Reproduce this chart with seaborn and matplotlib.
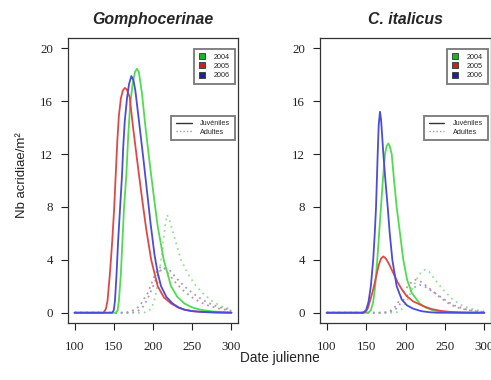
import matplotlib
matplotlib.use("Agg")
import matplotlib.pyplot as plt
from matplotlib.lines import Line2D
import seaborn as sns

# --- DATA (day, density) ---
YEARS = ['2004', '2005', '2006']
STAGES = ['Juvéniles', 'Adultes']
PANELS = ['Gomphocerinae', 'C. italicus']
X_TICKS = [100, 150, 200, 250, 300]
Y_TICKS = [0, 4, 8, 12, 16, 20]

# Gomphocerinae
gom_juv_2004 = [(100, 0), (153, 0), (155, 0.2), (156.5, 0.9), (159, 2.9), (161, 5.4), (163, 7.9),
                (166, 10.4), (168.5, 13.5), (171, 15.8), (174, 17.3), (177, 18.2), (179.5, 18.45),
                (182, 18.2), (185.9, 16.6), (190.1, 14.2), (195.6, 11.4), (200.6, 9.0),
                (206.1, 6.5), (213.7, 4.0), (223, 2.0), (231, 1.2), (240, 0.7), (250, 0.4),
                (261, 0.22), (275, 0.1), (290, 0.04), (300, 0.02)]
gom_juv_2005 = [(100, 0), (137, 0), (140, 0.3), (142, 0.9), (145, 2.9), (148, 5.4), (150.5, 7.9),
                (152.6, 10.6), (154.5, 13.0), (156.5, 14.9), (159, 16.2), (161.5, 16.8), (164, 17.0),
                (166.5, 16.9), (170.3, 16.3), (174.5, 14.05), (180.9, 11.0), (185.9, 8.7),
                (191.4, 6.3), (197.7, 4.0), (206, 2.0), (214, 1.15), (223, 0.7), (232, 0.4),
                (240, 0.22), (250, 0.12), (265, 0.05), (280, 0.02), (300, 0)]
gom_juv_2006 = [(100, 0), (148, 0), (150, 0.2), (151.5, 0.9), (153.5, 2.9), (155.5, 5.4), (158, 7.9),
                (160.5, 10.4), (162, 12.5), (164, 14.5), (167, 16.3), (169.5, 17.3), (172.4, 17.9),
                (175, 17.6), (177.5, 16.8), (183, 14.05), (188.4, 11.3), (192.7, 9.0), (196.8, 6.8),
                (201.9, 4.4), (206, 3.0), (210.3, 2.0), (217, 1.2), (225, 0.7), (232, 0.42),
                (240, 0.24), (250, 0.12), (265, 0.05), (280, 0.02), (300, 0)]
gom_ad_2004 = [(100, 0), (188, 0), (193, 0.1), (197.7, 0.3), (201, 0.8), (204, 1.5), (207, 2.6),
               (210.3, 4.0), (213, 5.3), (215.5, 6.6), (218, 7.4), (221, 7.0), (225, 6.2),
               (229.3, 5.3), (235.6, 4.0), (240, 3.5), (246, 2.8), (254, 2.1), (263, 1.5),
               (275, 0.9), (286, 0.5), (300, 0.25)]
gom_ad_2005 = [(100, 0), (165, 0), (172, 0.1), (178, 0.3), (183, 0.5), (188, 1.0), (193.4, 1.5),
               (198, 2.2), (203, 2.9), (207, 3.3), (210.3, 3.5), (214, 3.4), (220, 2.9), (230, 2.2),
               (240, 1.6), (250, 1.15), (260, 0.8), (270, 0.55), (285, 0.3), (300, 0.15)]
gom_ad_2006 = [(100, 0), (172, 0), (180, 0.1), (188, 0.5), (195, 1.3), (200, 2.0), (205, 2.7),
               (210, 3.2), (214, 3.4), (220, 3.3), (230, 2.6), (240, 2.0), (250, 1.5), (260, 1.1),
               (270, 0.75), (285, 0.4), (300, 0.2)]

# C. italicus
ita_juv_2004 = [(100, 0), (153, 0), (156, 0.2), (159, 0.8), (161.5, 2.0), (164.2, 4.0), (166.5, 6.0),
                (168.9, 8.0), (171.5, 10.2), (174, 12.0), (176, 12.6), (178.2, 12.8), (180, 12.6),
                (182.5, 12.0), (185.5, 10.0), (188.8, 8.0), (193, 6.0), (197.2, 4.0), (202, 2.5),
                (208, 1.5), (218, 0.7), (226, 0.38), (235, 0.18), (245, 0.08), (258, 0.02), (300, 0)]
ita_juv_2005 = [(100, 0), (146, 0), (149, 0.05), (152, 0.3), (155, 0.9), (159, 1.75), (163, 2.8),
                (166, 3.6), (169, 4.1), (171.8, 4.26), (175, 4.1), (179, 3.7), (184.5, 3.0),
                (190, 2.3), (195, 1.8), (201.5, 1.25), (210, 0.85), (222.6, 0.5), (233, 0.28),
                (243.8, 0.15), (255, 0.07), (270, 0.02), (285, 0), (300, 0)]
ita_juv_2006 = [(100, 0), (146, 0), (150, 0.2), (153, 0.8), (156, 2.0), (159, 4.0), (161, 6.0),
                (162.6, 8.0), (164.7, 12.0), (166, 14.2), (167.6, 15.2), (169, 14.6), (171.9, 12.0),
                (174.5, 10.0), (177.4, 8.0), (180, 6.0), (183.3, 4.0), (188.8, 2.0), (195.2, 1.0),
                (202, 0.55), (210, 0.3), (220, 0.12), (230, 0.04), (240, 0), (300, 0)]
ita_ad_2004 = [(100, 0), (185, 0), (190, 0.05), (195, 0.25), (200, 0.7), (205, 1.3), (210, 2.0),
               (215, 2.6), (220, 3.1), (224.7, 3.26), (230, 3.1), (235, 2.7), (240, 2.3), (250, 1.6),
               (260, 1.0), (270, 0.6), (280, 0.35), (290, 0.2), (300, 0.1)]
ita_ad_2005 = [(100, 0), (170, 0), (178, 0.05), (185, 0.3), (192, 0.9), (198, 1.6), (204, 2.1),
               (209, 2.4), (213, 2.5), (218, 2.4), (225, 2.1), (235, 1.6), (245, 1.1), (255, 0.7),
               (265, 0.4), (280, 0.18), (300, 0.05)]
ita_ad_2006 = [(100, 0), (172, 0), (180, 0.05), (188, 0.3), (195, 0.8), (202, 1.3), (208, 1.7),
               (213, 2.0), (218, 2.1), (224, 2.0), (232, 1.7), (242, 1.3), (252, 0.9), (262, 0.55),
               (275, 0.28), (290, 0.1), (300, 0.05)]

# --- STYLE ---
sns.set_style('white')
plt.rcParams['font.family'] = ['Liberation Sans', 'DejaVu Sans']

JUV_COLORS = {'2004': '#4fdc4f', '2005': '#e04848', '2006': '#4c4cd8'}
AD_COLORS = {'2004': '#9ade9a', '2005': '#c49494', '2006': '#9a9ad2'}
LEG_COLORS = {'2004': '#22b022', '2005': '#c82020', '2006': '#20209c'}

curves = {
    'Gomphocerinae': {'Juvéniles': [gom_juv_2004, gom_juv_2005, gom_juv_2006],
                      'Adultes': [gom_ad_2004, gom_ad_2005, gom_ad_2006]},
    'C. italicus': {'Juvéniles': [ita_juv_2004, ita_juv_2005, ita_juv_2006],
                    'Adultes': [ita_ad_2004, ita_ad_2005, ita_ad_2006]},
}

W, H = 491, 380
fig = plt.figure(figsize=(W / 100, H / 100), dpi=100)
ax1 = fig.add_axes([68.3 / W, 1 - 323.3 / H, 169.4 / W, 285.6 / H])
ax2 = fig.add_axes([320.4 / W, 1 - 323.3 / H, 170.2 / W, 285.6 / H])

for ax, panel in zip([ax1, ax2], PANELS):
    # adults first so juveniles sit on top
    for stage in ['Adultes', 'Juvéniles']:
        for year, pts in zip(YEARS, curves[panel][stage]):
            days = [p[0] for p in pts]
            vals = [p[1] for p in pts]
            if stage == 'Juvéniles':
                sns.lineplot(x=days, y=vals, ax=ax, color=JUV_COLORS[year], lw=1.3,
                             sort=False, estimator=None)
            else:
                sns.lineplot(x=days, y=vals, ax=ax, color=AD_COLORS[year], lw=1.3,
                             linestyle=(0, (1, 2.2)), sort=False, estimator=None)

    ax.set_xlim(92, 308)
    ax.set_ylim(-0.8, 20.8)
    ax.set_xticks(X_TICKS)
    ax.set_yticks(Y_TICKS)
    ax.set_xlabel('')
    ax.set_ylabel('')
    ax.tick_params(axis='both', direction='out', length=5, width=0.8, color='#222',
                   labelsize=9.3, bottom=True, left=True)
    ax.tick_params(axis='x', pad=8)
    ax.tick_params(axis='y', pad=6)
    for lab in ax.get_xticklabels() + ax.get_yticklabels():
        lab.set_family(['Liberation Serif', 'DejaVu Serif'])
        lab.set_color('#222')
    for sp in ax.spines.values():
        sp.set_visible(True)
        sp.set_color('#333')
        sp.set_linewidth(0.9)
    ax.set_title(panel, fontsize=11.4, fontweight='bold', style='italic', pad=10)

    year_handles = [Line2D([], [], marker='s', linestyle='', markersize=4,
                           markerfacecolor=LEG_COLORS[y], markeredgecolor='#333',
                           markeredgewidth=0.6) for y in YEARS]
    leg1 = ax.legend(year_handles, YEARS, loc='upper right', bbox_to_anchor=(0.982, 0.962),
                     borderaxespad=0, fontsize=5.2, frameon=True, fancybox=False,
                     edgecolor='#555', handlelength=0.8, handletextpad=1.2,
                     labelspacing=0.3, borderpad=0.7)
    leg1.get_frame().set_linewidth(1.3)
    ax.add_artist(leg1)

    stage_handles = [Line2D([], [], color='#333', lw=1.0),
                     Line2D([], [], color='#999', lw=1.0, linestyle=(0, (1, 1.5)))]
    leg2 = ax.legend(stage_handles, STAGES, loc='upper right', bbox_to_anchor=(0.982, 0.727),
                     borderaxespad=0, fontsize=5.2, frameon=True, fancybox=False,
                     edgecolor='#555', handlelength=2.2, handletextpad=1.2,
                     labelspacing=0.2, borderpad=0.6)
    leg2.get_frame().set_linewidth(1.3)

fig.text(22 / W, 1 - 175 / H, 'Nb acridiae/m²', rotation=90, ha='center', va='center',
         fontsize=9.5, color='#222')
fig.text(280 / W, 1 - 358 / H, 'Date julienne', ha='center', va='center',
         fontsize=9.8, color='#222')

plt.savefig('out.png', dpi=100)
